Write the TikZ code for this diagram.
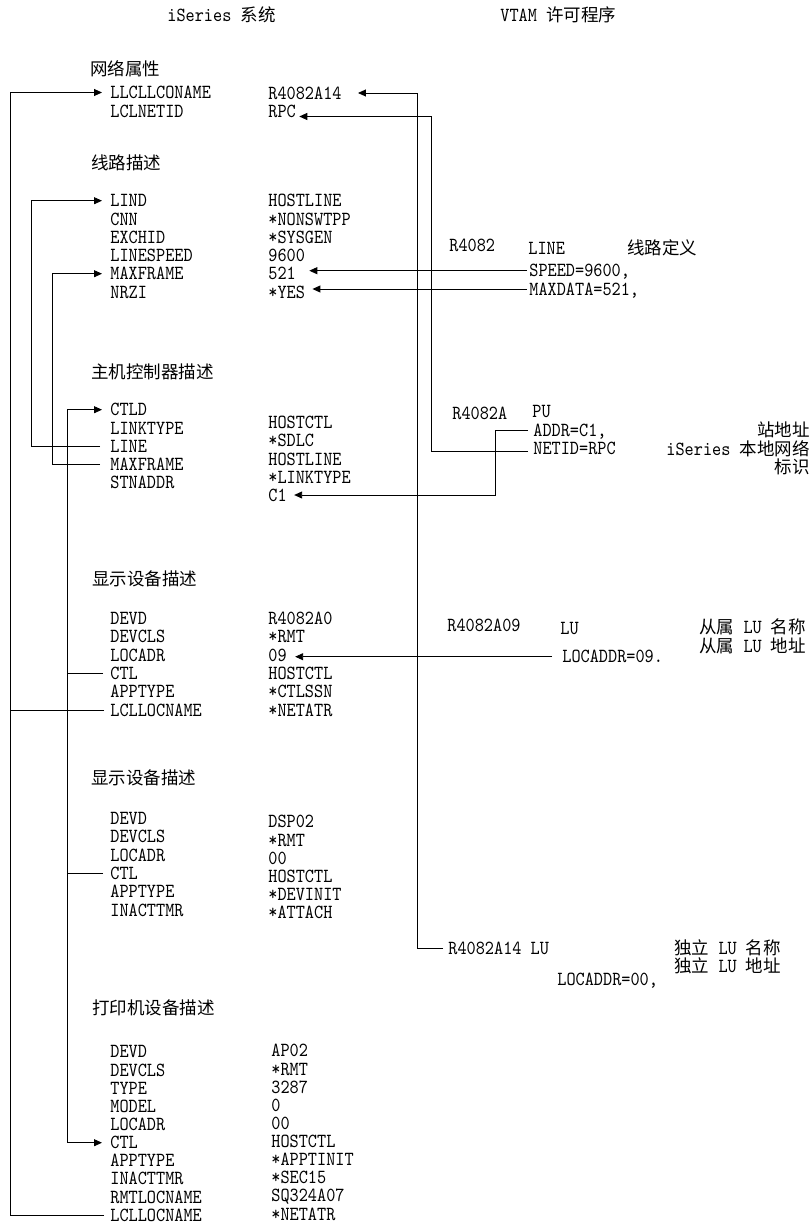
\documentclass[tikz,border=0pt]{standalone}
\usepackage{fontspec}
\setmainfont{lmmono10-regular.otf}[FakeStretch=0.87]
\newfontfamily\zhfont{Noto Sans CJK SC}
\usetikzlibrary{arrows.meta}
\newcommand{\zh}[1]{{\fontsize{17.5}{17.5}\selectfont\zhfont #1}}
\tikzset{
  lbl/.style={anchor=base west, inner sep=0pt, text height=12pt, text depth=0pt,
    font=\fontsize{20}{20}\selectfont},
  lblr/.style={lbl, anchor=base east},
  arr/.style={-{Triangle[length=8pt,width=7pt]}},
}
\begin{document}
\begin{tikzpicture}[x=1pt, y=-1pt, line width=0.9pt]
\useasboundingbox (0,0) rectangle (811,1226);

%% titles
\node[lbl] (hsys) at (167,21.5) {iSeries \zh{系统}};
\node[lbl] (hvtam) at (500,21.5) {VTAM \zh{许可程序}};

%% network attributes
\node[lbl] (hnet) at (90,75.6) {\zh{网络属性}};
\node[lbl] (lllc) at (110,98.5) {LLCLLCONAME};
\node[lbl] (lnetid) at (110,117) {LCLNETID};
\node[lbl] (vllc) at (268,99) {R4082A14};
\node[lbl] (vnetid) at (268,117.5) {RPC};

%% line description
\node[lbl] (hline) at (91,169.6) {\zh{线路描述}};
\node[lbl] (lind) at (110,206.7) {LIND};
\node[lbl] (lcnn) at (110,225) {CNN};
\node[lbl] (lexch) at (110,243.3) {EXCHID};
\node[lbl] (lspeed) at (110,261.5) {LINESPEED};
\node[lbl] (lmaxf) at (110,279.7) {MAXFRAME};
\node[lbl] (lnrzi) at (110,298) {NRZI};
\node[lbl] (vind) at (268,206.7) {HOSTLINE};
\node[lbl] (vcnn) at (268,225) {*NONSWTPP};
\node[lbl] (vexch) at (268,243.3) {*SYSGEN};
\node[lbl] (v9600) at (268,261.5) {9600};
\node[lbl] (v521) at (268,279.7) {521};
\node[lbl] (vyes) at (268,298) {*YES};

%% host controller description
\node[lbl] (hctl) at (91,378.6) {\zh{主机控制器描述}};
\node[lbl] (ctld) at (110,415.7) {CTLD};
\node[lbl] (clink) at (110,434.3) {LINKTYPE};
\node[lbl] (cline) at (110,452.5) {LINE};
\node[lbl] (cmaxf) at (110,470.5) {MAXFRAME};
\node[lbl] (cstn) at (110,488.7) {STNADDR};
\node[lbl] (vctl) at (268,428.5) {HOSTCTL};
\node[lbl] (vsdlc) at (268,446.7) {*SDLC};
\node[lbl] (vhline) at (268,465) {HOSTLINE};
\node[lbl] (vlink) at (268,483) {*LINKTYPE};
\node[lbl] (c1) at (268,501) {C1};

%% display device description 1
\node[lbl] (hdsp) at (92,585.6) {\zh{显示设备描述}};
\node[lbl] (ddevd) at (110,624) {DEVD};
\node[lbl] (ddevc) at (110,642.7) {DEVCLS};
\node[lbl] (dloc) at (110,661) {LOCADR};
\node[lbl] (dctl) at (110,679.3) {CTL};
\node[lbl] (dapp) at (110,697.7) {APPTYPE};
\node[lbl] (dlcl) at (110,716) {LCLLOCNAME};
\node[lbl] (vdevd) at (268,624) {R4082A0};
\node[lbl] (vdevc) at (268,642.7) {*RMT};
\node[lbl] (v09) at (268,661) {09};
\node[lbl] (vdctl) at (268,679.3) {HOSTCTL};
\node[lbl] (vdapp) at (268,697.7) {*CTLSSN};
\node[lbl] (vdlcl) at (268,716) {*NETATR};

%% display device description 2
\node[lbl] (hdsp2) at (91,784.6) {\zh{显示设备描述}};
\node[lbl] (d2devd) at (110,824.3) {DEVD};
\node[lbl] (d2devc) at (110,842.7) {DEVCLS};
\node[lbl] (d2loc) at (110,861) {LOCADR};
\node[lbl] (d2ctl) at (110,879.3) {CTL};
\node[lbl] (d2app) at (110,897.7) {APPTYPE};
\node[lbl] (d2inact) at (110,916) {INACTTMR};
\node[lbl] (v2devd) at (268,827.7) {DSP02};
\node[lbl] (v2devc) at (268,846) {*RMT};
\node[lbl] (v2loc) at (268,864.3) {00};
\node[lbl] (v2ctl) at (268,882) {HOSTCTL};
\node[lbl] (v2app) at (268,900) {*DEVINIT};
\node[lbl] (v2inact) at (268,918.5) {*ATTACH};

%% printer device description
\node[lbl] (hprt) at (92,1014.6) {\zh{打印机设备描述}};
\node[lbl] (pdevd) at (110,1057.7) {DEVD};
\node[lbl] (pdevc) at (110,1076) {DEVCLS};
\node[lbl] (ptype) at (110,1094.3) {TYPE};
\node[lbl] (pmodel) at (110,1112.5) {MODEL};
\node[lbl] (ploc) at (110,1130.5) {LOCADR};
\node[lbl] (pctl) at (110,1148.7) {CTL};
\node[lbl] (papp) at (110,1166.8) {APPTYPE};
\node[lbl] (pinact) at (110,1184.8) {INACTTMR};
\node[lbl] (prmt) at (110,1203) {RMTLOCNAME};
\node[lbl] (plcl) at (110,1221) {LCLLOCNAME};
\node[lbl] (vpdevd) at (271,1056.7) {AP02};
\node[lbl] (vpdevc) at (271,1075) {*RMT};
\node[lbl] (vptype) at (271,1093) {3287};
\node[lbl] (vpmodel) at (271,1111) {0};
\node[lbl] (vploc) at (271,1129.3) {00};
\node[lbl] (vpctl) at (271,1147.7) {HOSTCTL};
\node[lbl] (vpapp) at (271,1165.5) {*APPTINIT};
\node[lbl] (vpinact) at (271,1183.5) {*SEC15};
\node[lbl] (vprmt) at (271,1201.7) {SQ324A07};
\node[lbl] (vplcl) at (271,1220) {*NETATR};

%% VTAM side
\node[lbl] (r4082) at (449,251.7) {R4082};
\node[lbl] (rline) at (528,254) {LINE};
\node[lbl] (rlinedef) at (627,254.6) {\zh{线路定义}};
\node[lbl] (speed) at (529,276.7) {SPEED=9600,};
\node[lbl] (maxd) at (529,295) {MAXDATA=521,};

\node[lbl] (r4082a) at (452,419.3) {R4082A};
\node[lbl] (rpu) at (532,417.7) {PU};
\node[lbl] (addr) at (533,436) {ADDR=C1,};
\node[lbl] (netid) at (533,454.5) {NETID=RPC};
\node[lblr] (nstn) at (810,436.6) {\zh{站地址}};
\node[lblr] (nnet) at (810,455.6) {iSeries \zh{本地网络}};
\node[lblr] (nid) at (810,473) {\zh{标识}};

\node[lbl] (r4082a09) at (447,631.7) {R4082A09};
\node[lbl] (rlu) at (560,634) {LU};
\node[lbl] (loc09) at (562,662.7) {LOCADDR=09.};
\node[lbl] (ndep) at (699,633.6) {\zh{从属} LU \zh{名称}};
\node[lbl] (ndepa) at (699,652.4) {\zh{从属} LU \zh{地址}};

\node[lbl] (lu14) at (448,954) {R4082A14 LU};
\node[lbl] (nind) at (674,954) {\zh{独立} LU \zh{名称}};
\node[lbl] (ninda) at (674,972.6) {\zh{独立} LU \zh{地址}};
\node[lbl] (loc00) at (557,985) {LOCADDR=00,};

%% bus lines
\coordinate (bnet) at (10,0);
\coordinate (blind) at (31,0);
\coordinate (bmaxf) at (52,0);
\coordinate (bctl) at (67,0);
\coordinate (bname) at (417,0);
\coordinate (bnetid) at (431,0);
\coordinate (baddr) at (495,0);
\coordinate (netidin) at ([yshift=-3pt]netid.west);
\coordinate (rpcin) at ([yshift=-5pt]vnetid.east);

\draw[arr, shorten <=6pt, shorten >=8pt] (plcl.west) -| (bnet |- lllc.west) -- (lllc.west);
\draw[shorten <=6pt] (dlcl.west) -- (bnet |- dlcl.west);
\draw[arr, shorten <=10pt, shorten >=8pt] (cline.west) -| (blind |- lind.west) -- (lind.west);
\draw[arr, shorten <=10pt, shorten >=8pt] (cmaxf.west) -| (bmaxf |- lmaxf.west) -- (lmaxf.west);
\draw[{Triangle[length=8pt,width=7pt]}-{Triangle[length=8pt,width=7pt]}, shorten <=8pt, shorten >=8pt]
  (ctld.west) -| (bctl |- pctl.west) -- (pctl.west);
\draw[shorten <=7pt] (dctl.west) -- (bctl |- dctl.west);
\draw[shorten <=7pt] (d2ctl.west) -- (bctl |- d2ctl.west);

\draw[arr, shorten <=5pt, shorten >=16pt] (lu14.west) -| (bname |- vllc.east) -- (vllc.east);
\draw[arr, shorten <=5pt, shorten >=3pt] (netidin) -| (bnetid |- rpcin) -- (rpcin);
\draw[arr, shorten <=5pt, shorten >=7pt] (addr.west) -| (baddr |- c1.east) -- (c1.east);
\draw[arr, shorten <=2pt, shorten >=13pt] (speed.west) -- (speed.west -| v521.east);
\draw[arr, shorten <=2pt, shorten >=7pt] (maxd.west) -- (maxd.west -| vyes.east);
\draw[arr, shorten <=10pt, shorten >=8pt] (loc09.west) -- (loc09.west -| v09.east);

\end{tikzpicture}
\end{document}
